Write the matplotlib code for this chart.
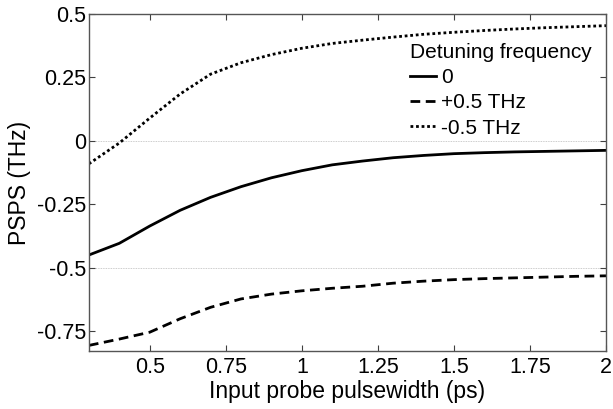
import matplotlib
matplotlib.use("Agg")
import matplotlib.pyplot as plt

plt.rcParams['font.family'] = ['Liberation Sans', 'DejaVu Sans']

pulsewidth = [0.3, 0.4, 0.5, 0.6, 0.7, 0.8, 0.9, 1.0, 1.1, 1.2, 1.3, 1.4, 1.5, 1.6, 1.7, 1.8, 1.9, 2.0]
psps_zero = [-0.449, -0.403, -0.335, -0.273, -0.222, -0.180, -0.145, -0.117, -0.094, -0.079,
             -0.066, -0.057, -0.050, -0.046, -0.043, -0.041, -0.039, -0.037]
psps_plus = [-0.805, -0.780, -0.753, -0.700, -0.655, -0.622, -0.603, -0.590, -0.580, -0.572,
             -0.560, -0.552, -0.546, -0.542, -0.539, -0.536, -0.533, -0.531]
psps_minus = [-0.090, -0.008, 0.090, 0.185, 0.263, 0.308, 0.340, 0.365, 0.384, 0.397,
              0.409, 0.420, 0.428, 0.435, 0.441, 0.446, 0.450, 0.454]
labels = ['0', '+0.5 THz', '-0.5 THz']
xticks = [0.5, 0.75, 1.0, 1.25, 1.5, 1.75, 2.0]
xticklabels = ['0.5', '0.75', '1', '1.25', '1.5', '1.75', '2']
yticks = [-0.75, -0.5, -0.25, 0, 0.25, 0.5]
yticklabels = ['-0.75', '-0.5', '-0.25', '0', '0.25', '0.5']

fig = plt.figure(figsize=(6.13, 4.09), dpi=100)
ax = fig.add_axes([0.145, 0.1418, 0.8436, 0.824])

for yg in [-0.5, 0, 0.5]:
    ax.axhline(yg, color='#bbbbbb', lw=0.6, ls=(0, (1, 1)), zorder=0)

ax.plot(pulsewidth, psps_zero, color='black', lw=2.0, ls='-', label=labels[0])
ax.plot(pulsewidth, psps_plus, color='black', lw=2.0, ls=(0, (3.5, 2)), label=labels[1])
ax.plot(pulsewidth, psps_minus, color='black', lw=2.0, ls=(0, (1, 1)), label=labels[2])

ax.set_xlim(0.3, 2.0)
ax.set_ylim(-0.827, 0.5)
ax.set_xticks(xticks)
ax.set_xticklabels(xticklabels)
ax.set_yticks(yticks)
ax.set_yticklabels(yticklabels)
ax.tick_params(direction='in', top=True, right=True, length=4, width=0.8,
               labelsize=15.5, colors='#404040', labelcolor='black')
ax.tick_params(axis='x', pad=4)
ax.tick_params(axis='y', pad=2)
for s in ax.spines.values():
    s.set_color('#555555')
    s.set_linewidth(1.0)

ax.set_xlabel('Input probe pulsewidth (ps)', fontsize=16.5, labelpad=2)
ax.set_ylabel('PSPS (THz)', fontsize=16.5, labelpad=4)

leg = ax.legend(title='Detuning frequency', loc='upper left', bbox_to_anchor=(0.62, 0.914),
                frameon=False, fontsize=15, title_fontsize=15, handlelength=1.25,
                handletextpad=0.25, labelspacing=0.3, borderaxespad=0.0, borderpad=0.0)
leg._legend_box.align = 'left'

fig.savefig('out.png', dpi=100)
